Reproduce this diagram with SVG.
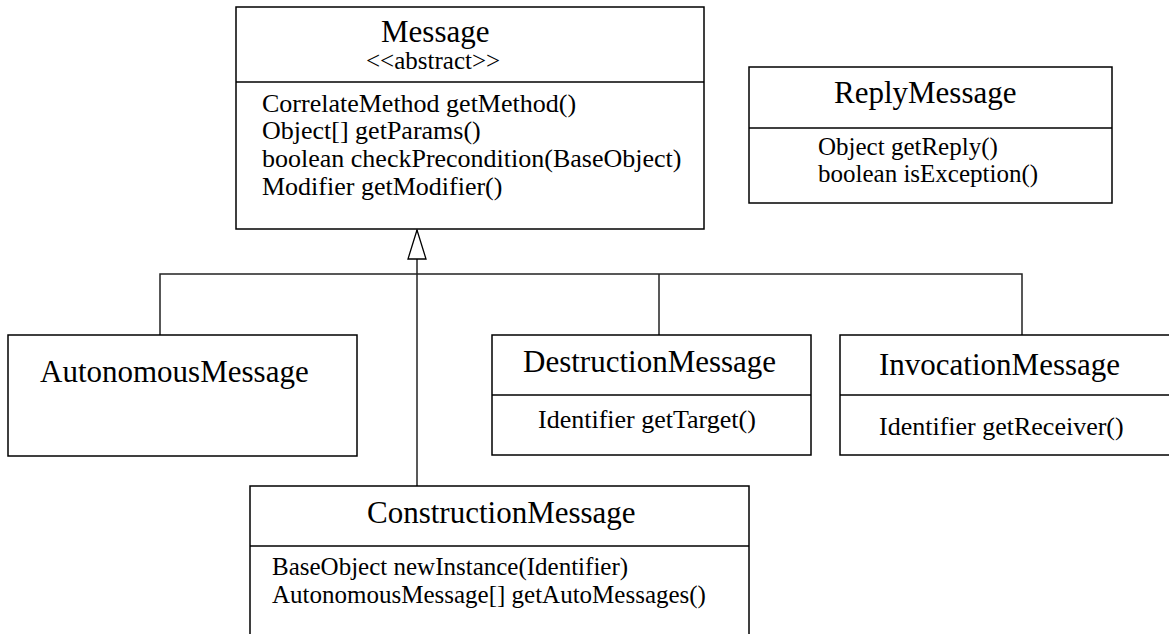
<svg xmlns="http://www.w3.org/2000/svg" width="1169" height="634" viewBox="0 0 1169 634">
<defs>
<style>
.box{fill:#fff;stroke:#000;stroke-width:1.5}
.div{stroke:#000;stroke-width:1.5}
.conn{fill:none;stroke:#222;stroke-width:1.5}
.title{font-family:"Liberation Serif","Times New Roman",serif;font-size:31px;fill:#000}
.mem{font-family:"Liberation Serif","Times New Roman",serif;font-size:26px;fill:#000}
.tight{font-size:25px}
</style>
<marker id="gen" markerWidth="32" markerHeight="20" refX="31" refY="10" orient="auto" markerUnits="userSpaceOnUse" viewBox="0 0 32 20">
<path d="M31,10 L2,1 L2,19 Z" fill="#fff" stroke="#000" stroke-width="1.3"/>
</marker>
</defs>
<rect width="1169" height="634" fill="#fff"/>
<g id="connectors">
<path class="conn" d="M160,335 V274 H1022 V335"/>
<path class="conn" d="M659,274 V335"/>
<path class="conn" d="M417,486 V230" marker-end="url(#gen)"/>
</g>
<g id="Message">
<rect class="box" x="236" y="7" width="468" height="222"/>
<line class="div" x1="236" y1="82" x2="704" y2="82"/>
<text class="title" x="381" y="42">Message</text>
<text class="mem tight" x="366" y="69">&lt;&lt;abstract&gt;&gt;</text>
<text class="mem" x="262" y="112">CorrelateMethod getMethod()</text>
<text class="mem" x="262" y="139">Object[] getParams()</text>
<text class="mem" x="262" y="167">boolean checkPrecondition(BaseObject)</text>
<text class="mem" x="262" y="195">Modifier getModifier()</text>
</g>
<g id="ReplyMessage">
<rect class="box" x="749" y="67" width="363" height="136"/>
<line class="div" x1="749" y1="128" x2="1112" y2="128"/>
<text class="title" x="834" y="103">ReplyMessage</text>
<text class="mem tight" x="818" y="155">Object getReply()</text>
<text class="mem tight" x="818" y="182">boolean isException()</text>
</g>
<g id="AutonomousMessage">
<rect class="box" x="8" y="335" width="349" height="121"/>
<text class="title" x="40" y="382">AutonomousMessage</text>
</g>
<g id="DestructionMessage">
<rect class="box" x="492" y="335" width="319" height="120"/>
<line class="div" x1="492" y1="395" x2="811" y2="395"/>
<text class="title" x="523" y="372">DestructionMessage</text>
<text class="mem" x="538" y="428">Identifier getTarget()</text>
</g>
<g id="InvocationMessage">
<rect class="box" x="840" y="335" width="340" height="120"/>
<line class="div" x1="840" y1="395" x2="1169" y2="395"/>
<text class="title" x="879" y="375">InvocationMessage</text>
<text class="mem" x="879" y="435">Identifier getReceiver()</text>
</g>
<g id="ConstructionMessage">
<rect class="box" x="250" y="486" width="499" height="160"/>
<line class="div" x1="250" y1="546" x2="749" y2="546"/>
<text class="title" x="367" y="523">ConstructionMessage</text>
<text class="mem tight" x="272" y="575">BaseObject newInstance(Identifier)</text>
<text class="mem tight" x="272" y="603">AutonomousMessage[] getAutoMessages()</text>
</g>
</svg>
